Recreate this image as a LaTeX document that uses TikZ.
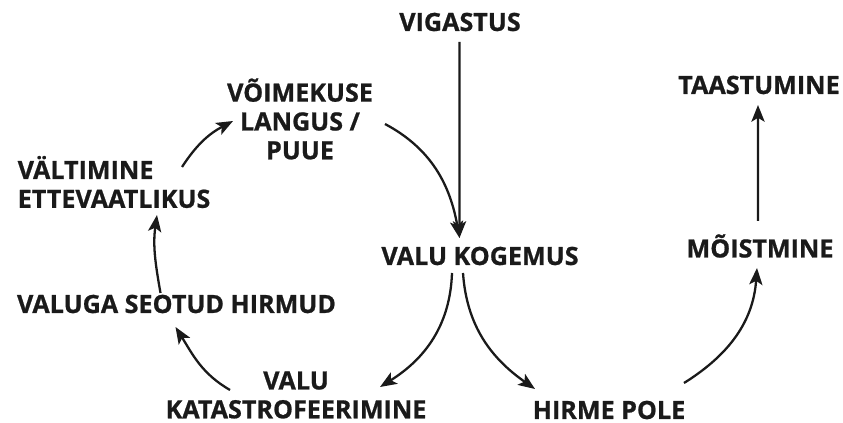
\documentclass[tikz,border=0pt]{standalone}
\usepackage{fontspec}
\setmainfont{Open Sans}[BoldFeatures={FakeBold=0.8}]
\usetikzlibrary{arrows.meta}
\definecolor{inkblack}{HTML}{1A1A1A}

\begin{document}
\begin{tikzpicture}[
    >={Stealth[length=9.5pt, width=7.5pt, inset=2.2pt]},
    lbl/.style={inner sep=0pt, text=inkblack, font=\fontsize{14.3}{16.4}\selectfont\bfseries},
    flow/.style={->, inkblack, line width=1.3pt},
  ]

  % Canvas
  \useasboundingbox (0,0) rectangle (16.86,8.46);

  % === Labels ===
  \node[lbl] (vig) at (9.20,8.02) {VIGASTUS};
  \node[lbl, align=center] (voim) at (6.00,6.08) {VÕIMEKUSE\\LANGUS /\\PUUE};
  \node[lbl, align=left] (valt) at (2.28,4.82) {VÄLTIMINE\\ETTEVAATLIKUS};
  \node[lbl] (hirm) at (3.53,2.38) {VALUGA SEOTUD HIRMUD};
  \node[lbl, align=center] (kata) at (5.92,0.56) {VALU\\KATASTROFEERIMINE};
  \node[lbl] (kog) at (9.60,3.34) {VALU KOGEMUS};
  \node[lbl] (pole) at (12.18,0.26) {HIRME POLE};
  \node[lbl] (moist) at (15.20,3.54) {MÕISTMINE};
  \node[lbl] (taas) at (15.18,6.76) {TAASTUMINE};

  % === Connectors ===
  % injury straight down
  \draw[flow] ([shift={(-0.01,-0.40)}]vig.center) -- ([shift={(-0.41,0.36)}]kog.center);
  % loop: capacity loss back into pain
  \draw[flow] ([shift={(1.70,-0.10)}]voim.center)
    to[out=-28, in=100] ([shift={(-0.41,0.36)}]kog.center);
  % split below pain experience
  \draw[flow] ([shift={(-0.56,-0.34)}]kog.center)
    to[out=-92, in=32] ([shift={(1.68,0.16)}]kata.center);
  \draw[flow] ([shift={(-0.34,-0.34)}]kog.center)
    to[out=-86, in=145] ([shift={(-1.48,0.42)}]pole.center);
  % fear-avoidance loop
  \draw[flow] ([shift={(-1.32,0.10)}]kata.center)
    to[out=150, in=-58] ([shift={(-0.02,-0.46)}]hirm.center);
  \draw[flow] ([shift={(-0.32,0.22)}]hirm.center)
    to[out=100, in=-98] ([shift={(0.86,-0.66)}]valt.center);
  \draw[flow] ([shift={(1.36,0.30)}]valt.center)
    to[out=57, in=-152] ([shift={(-1.34,-0.04)}]voim.center);
  % recovery path
  \draw[flow] ([shift={(1.50,0.54)}]pole.center)
    to[out=32, in=-94] ([shift={(-0.06,-0.44)}]moist.center);
  \draw[flow] ([shift={(-0.04,0.50)}]moist.center) -- ([shift={(-0.02,-0.40)}]taas.center);

\end{tikzpicture}
\end{document}
